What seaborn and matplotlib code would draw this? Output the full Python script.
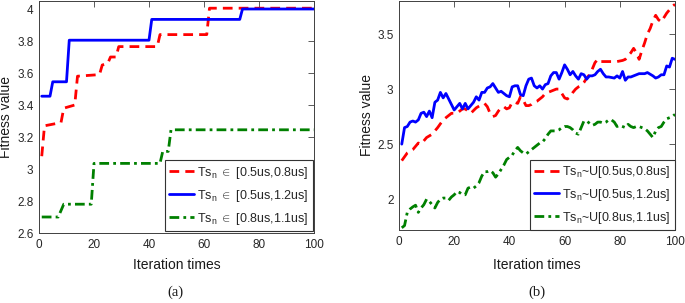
import matplotlib
matplotlib.use("Agg")
import matplotlib.pyplot as plt
from matplotlib.ticker import FuncFormatter
import pandas as pd
import seaborn as sns

# ---------------- data: panel (a) ----------------
red_a_x = [1, 2, 8, 9, 13, 14, 22, 23, 25, 26, 28, 29, 43, 44, 61, 62, 100]
red_a_y = [3.08, 3.27, 3.29, 3.38, 3.40, 3.58, 3.59, 3.65, 3.66, 3.70, 3.70, 3.765,
           3.765, 3.84, 3.84, 4.005, 4.005]
blue_a_x = [1, 4, 5, 10, 11, 40, 41, 73, 74, 100]
blue_a_y = [3.455, 3.455, 3.545, 3.545, 3.805, 3.805, 3.935, 3.935, 4.0, 4.0]
green_a_x = [1, 7, 9, 19, 20, 44, 45, 47, 48, 100]
green_a_y = [2.70, 2.70, 2.78, 2.78, 3.035, 3.035, 3.11, 3.11, 3.245, 3.245]

# ---------------- data: panel (b) ----------------
red_b_x = [1, 3, 5, 7, 8, 10, 12, 14, 16, 17, 19, 21, 23, 24, 26, 28, 30, 31, 32, 33,
           34, 35, 36, 37, 38, 39, 40, 41, 42, 43, 44, 45, 46, 47, 48, 49, 50, 51, 52,
           53, 54, 55, 56, 57, 58, 59, 60, 61, 62, 63, 64, 65, 66, 67, 68, 69, 70, 71,
           72, 73, 75, 77, 79, 81, 82, 83, 84, 85, 86, 87, 88, 89, 90, 91, 92, 93, 94,
           95, 96, 97, 98, 99, 100]
red_b_y = [2.35, 2.42, 2.45, 2.51, 2.50, 2.56, 2.59, 2.65, 2.72, 2.74, 2.78, 2.78,
           2.82, 2.82, 2.78, 2.83, 2.86, 2.87, 2.84, 2.78, 2.75, 2.76, 2.80, 2.83, 2.84,
           2.82, 2.83, 2.88, 2.88, 2.87, 2.93, 2.90, 2.85, 2.85, 2.86, 2.88, 2.89, 2.91,
           2.93, 2.96, 2.97, 2.98, 2.99, 3.00, 3.00, 2.96, 2.92, 2.91, 2.93, 2.97, 3.00,
           3.02, 3.03, 3.06, 3.10, 3.13, 3.18, 3.24, 3.27, 3.25, 3.25, 3.25, 3.25, 3.26,
           3.27, 3.30, 3.33, 3.37, 3.33, 3.27, 3.35, 3.42, 3.50, 3.55, 3.62, 3.67, 3.63,
           3.61, 3.65, 3.69, 3.72, 3.75, 3.77]
blue_b_x = [1, 2, 3, 4, 5, 6, 7, 8, 9, 10, 11, 12, 13, 14, 15, 16, 17, 18, 19, 20, 21,
            22, 23, 24, 25, 26, 27, 28, 29, 30, 31, 32, 33, 34, 36, 37, 39, 40, 41, 42,
            43, 44, 45, 46, 47, 48, 49, 50, 51, 52, 53, 54, 55, 56, 57, 58, 59, 60, 61,
            62, 63, 64, 65, 66, 67, 68, 69, 70, 71, 72, 73, 74, 75, 76, 78, 79, 80, 81,
            82, 83, 84, 85, 87, 88, 89, 90, 92, 93, 94, 95, 96, 97, 98, 99, 100]
blue_b_y = [2.50, 2.65, 2.66, 2.70, 2.71, 2.70, 2.72, 2.78, 2.79, 2.75, 2.80, 2.74,
            2.88, 2.90, 2.97, 2.92, 2.96, 2.91, 2.86, 2.81, 2.84, 2.87, 2.82, 2.87, 2.82,
            2.85, 2.88, 2.93, 2.90, 2.97, 2.97, 3.01, 3.02, 3.05, 2.97, 2.98, 2.94, 2.93,
            3.02, 3.03, 3.03, 2.95, 2.94, 3.03, 3.09, 3.10, 3.03, 3.01, 3.03, 3.00, 3.04,
            3.05, 3.12, 3.15, 3.15, 3.09, 3.15, 3.22, 3.18, 3.13, 3.16, 3.12, 3.09, 3.14,
            3.13, 3.09, 3.12, 3.12, 3.13, 3.16, 3.18, 3.14, 3.11, 3.11, 3.10, 3.12, 3.10,
            3.16, 3.08, 3.11, 3.11, 3.12, 3.14, 3.14, 3.14, 3.15, 3.12, 3.10, 3.11, 3.13,
            3.13, 3.21, 3.20, 3.28, 3.27]
green_b_x = list(range(1, 101))
green_b_y = [1.74, 1.76, 1.88, 1.91, 1.93, 1.945, 1.88, 1.92, 1.95, 2.00,
             1.98, 1.95, 1.92, 1.97, 2.00, 2.01, 2.01, 1.99, 2.02, 2.04,
             2.07, 2.06, 2.04, 2.04, 2.10, 2.11, 2.10, 2.12, 2.15, 2.21,
             2.25, 2.25, 2.26, 2.24, 2.20, 2.23, 2.27, 2.31, 2.36, 2.38,
             2.40, 2.44, 2.47, 2.44, 2.42, 2.41, 2.43, 2.45, 2.47, 2.49,
             2.51, 2.52, 2.55, 2.59, 2.62, 2.62, 2.62, 2.63, 2.65, 2.66,
             2.66, 2.65, 2.63, 2.60, 2.59, 2.65, 2.71, 2.71, 2.69, 2.67,
             2.68, 2.70, 2.70, 2.69, 2.70, 2.72, 2.72, 2.70, 2.66, 2.67,
             2.66, 2.65, 2.68, 2.66, 2.65, 2.66, 2.66, 2.65, 2.64, 2.62,
             2.59, 2.56, 2.62, 2.65, 2.66, 2.70, 2.73, 2.74, 2.75, 2.77]

labels_a = [r"Ts$_{\mathrm{n}}$ $\in$ [0.5us,0.8us]",
            r"Ts$_{\mathrm{n}}$ $\in$ [0.5us,1.2us]",
            r"Ts$_{\mathrm{n}}$ $\in$ [0.8us,1.1us]"]
labels_b = [r"Ts$_{\mathrm{n}}$~U[0.5us,0.8us]",
            r"Ts$_{\mathrm{n}}$~U[0.5us,1.2us]",
            r"Ts$_{\mathrm{n}}$~U[0.8us,1.1us]"]
x_ticks = [0, 20, 40, 60, 80, 100]
y_ticks_a = [2.6, 2.8, 3.0, 3.2, 3.4, 3.6, 3.8, 4.0]
y_ticks_b = [2.0, 2.5, 3.0, 3.5]

# ---------------- style ----------------
sns.set_theme(style="white")
plt.rcParams["font.family"] = ["Liberation Sans", "DejaVu Sans"]
plt.rcParams["mathtext.fontset"] = "custom"
plt.rcParams["mathtext.rm"] = "Liberation Sans"
plt.rcParams["mathtext.it"] = "Liberation Sans:italic"
plt.rcParams["mathtext.sf"] = "Liberation Sans"

RED = (1.0, 0.0, 0.0)
BLUE = (0.0, 0.0, 1.0)
GREEN = (0.0, 0.5, 0.0)
AXC = "0.25"
LW = 2.0

W, H = 685, 303
fig = plt.figure(figsize=(W / 100, H / 100), dpi=100)
ax1 = fig.add_axes([39 / W, 1 - 233 / H, 275 / W, 232 / H])
ax2 = fig.add_axes([399 / W, 1 - 230 / H, 276 / W, 229 / H])


def draw(ax, series, labels):
    styles = [(RED, (0, (3.5, 2.2))), (BLUE, "-"), (GREEN, (0, (3.5, 1.5, 1.0, 1.5)))]
    for (xs, ys), lab, (c, ls) in zip(series, labels, styles):
        df = pd.DataFrame({"x": xs, "y": ys})
        sns.lineplot(data=df, x="x", y="y", ax=ax, color=c, linestyle=ls,
                     linewidth=LW, label=lab, estimator=None, sort=False)


draw(ax1, [(red_a_x, red_a_y), (blue_a_x, blue_a_y), (green_a_x, green_a_y)], labels_a)
draw(ax2, [(red_b_x, red_b_y), (blue_b_x, blue_b_y), (green_b_x, green_b_y)], labels_b)

fmt = FuncFormatter(lambda v, p: f"{v:g}")
for ax, yl, yt in [(ax1, (2.6, 4.05), y_ticks_a), (ax2, (1.72, 3.80), y_ticks_b)]:
    ax.set_xlim(0, 100)
    ax.set_ylim(*yl)
    ax.set_xticks(x_ticks)
    ax.set_yticks(yt)
    ax.xaxis.set_major_formatter(fmt)
    ax.yaxis.set_major_formatter(fmt)
    ax.tick_params(direction="in", top=True, right=True, length=4, width=0.6,
                   color=AXC, labelcolor="0.15", labelsize=8.5, pad=4)
    for s in ax.spines.values():
        s.set_color(AXC)
        s.set_linewidth(0.7)
    ax.set_xlabel("Iteration times", fontsize=10, color="0.1")
    ax.set_ylabel("Fitness value", fontsize=10, color="0.1")

ax1.xaxis.set_label_coords(0.5, -(258 - 233) / 232)
ax2.xaxis.set_label_coords(0.5, -(258 - 230) / 229)
ax1.yaxis.set_label_coords((13 - 39) / 275, 0.5)
ax2.yaxis.set_label_coords((374 - 399) / 276, 0.5)

for ax, anchor in [(ax1, (0.996, 0.009)), (ax2, (1.0, 0.0))]:
    leg = ax.legend(loc="lower right", bbox_to_anchor=anchor, borderaxespad=0,
                    fontsize=9, handlelength=2.0, handletextpad=0.25,
                    labelspacing=0.55, borderpad=0.35, fancybox=False,
                    framealpha=1, edgecolor="0.2")
    leg.get_frame().set_linewidth(0.8)

fig.text(175 / W, 1 - 292 / H, "(a)", ha="center", va="center",
         family="Liberation Serif", fontsize=10.5, color="0.1")
fig.text(537 / W, 1 - 292 / H, "(b)", ha="center", va="center",
         family="Liberation Serif", fontsize=10.5, color="0.1")

fig.savefig("out.png", dpi=100)
